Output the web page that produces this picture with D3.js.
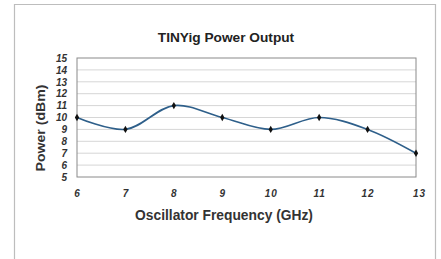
<!DOCTYPE html>
<html><head><meta charset="utf-8">
<script src="https://cdn.jsdelivr.net/npm/d3@7"></script>
<style>body{margin:0;background:#fff}svg{display:block}text{font-family:"Liberation Sans",Arial,sans-serif}</style>
</head><body>
<script>
const frequencies = [6, 7, 8, 9, 10, 11, 12, 13];
const power = [10, 9, 11, 10, 9, 10, 9, 7];
const yTicks = [5, 6, 7, 8, 9, 10, 11, 12, 13, 14, 15];
const title = "TINYig Power Output";
const xTitle = "Oscillator Frequency (GHz)";
const yTitle = "Power (dBm)";

const W = 441, H = 259;
const svg = d3.select("body").append("svg").attr("width", W).attr("height", H);

// outer chart-area border
svg.append("path").attr("d", `M14.5,${H} V4.5 H435.5 V${H}`)
  .attr("fill", "none").attr("stroke", "#bdbdbd").attr("stroke-width", 1.2);

const L = 77, R = 416, T = 58, B = 177;
const x = d3.scaleLinear().domain([6, 13]).range([L, R]);
const y = d3.scaleLinear().domain([5, 15]).range([B, T]);

// gridlines
svg.append("g").selectAll("line").data(yTicks.slice(1, -1)).join("line")
  .attr("x1", L).attr("x2", R).attr("y1", d => y(d)).attr("y2", d => y(d))
  .attr("stroke", "#d6d6d6").attr("stroke-width", 1);

// plot border
svg.append("rect").attr("x", L).attr("y", T).attr("width", R - L).attr("height", B - T)
  .attr("fill", "none").attr("stroke", "#8a8a8a").attr("stroke-width", 1);

// y tick labels
const yAxis = d3.axisLeft(y).tickValues(yTicks).tickSize(0).tickPadding(10).tickFormat(d3.format("d"));
const gy = svg.append("g").attr("transform", `translate(${L},0)`).call(yAxis);
gy.select(".domain").remove();
gy.selectAll("text").attr("font-size", 10).attr("font-style", "italic").attr("font-weight", "bold")
  .attr("fill", "#333").attr("font-family", "Liberation Sans, Arial, sans-serif");

// x tick labels
const xAxis = d3.axisBottom(x).tickValues(frequencies).tickSize(0).tickPadding(13).tickFormat(d3.format("d"));
const gx = svg.append("g").attr("transform", `translate(0,${B})`).call(xAxis);
gx.select(".domain").remove();
gx.selectAll("text").attr("font-size", 10).attr("font-style", "italic").attr("font-weight", "bold")
  .attr("letter-spacing", 1)
  .attr("fill", "#333").attr("font-family", "Liberation Sans, Arial, sans-serif")
  .attr("dx", (d, i) => i === frequencies.length - 1 ? 3 : 0);

// line
const line = d3.line().x((d, i) => x(frequencies[i])).y(d => y(d)).curve(d3.curveCatmullRom.alpha(0.5));
svg.append("path").datum(power).attr("d", line).attr("fill", "none")
  .attr("stroke", "#2e5f8a").attr("stroke-width", 1.6);

// markers
svg.append("g").selectAll("path").data(power).join("path")
  .attr("d", d3.symbol(d3.symbolDiamond, 16))
  .attr("transform", (d, i) => `translate(${x(frequencies[i])},${y(d)})`)
  .attr("fill", "#111");

// titles
svg.append("text").attr("x", 226).attr("y", 42).attr("text-anchor", "middle")
  .attr("font-size", 13.7).attr("font-weight", "bold").attr("fill", "#222").text(title);
svg.append("text").attr("x", 224).attr("y", 220).attr("text-anchor", "middle")
  .attr("font-size", 13.8).attr("font-weight", "bold").attr("fill", "#333").text(xTitle);
svg.append("text").attr("transform", "translate(45,128) rotate(-90)").attr("text-anchor", "middle")
  .attr("font-size", 12.5).attr("font-weight", "bold").attr("fill", "#333")
  .attr("textLength", 87).attr("lengthAdjust", "spacingAndGlyphs").text(yTitle);
</script>
</body></html>
